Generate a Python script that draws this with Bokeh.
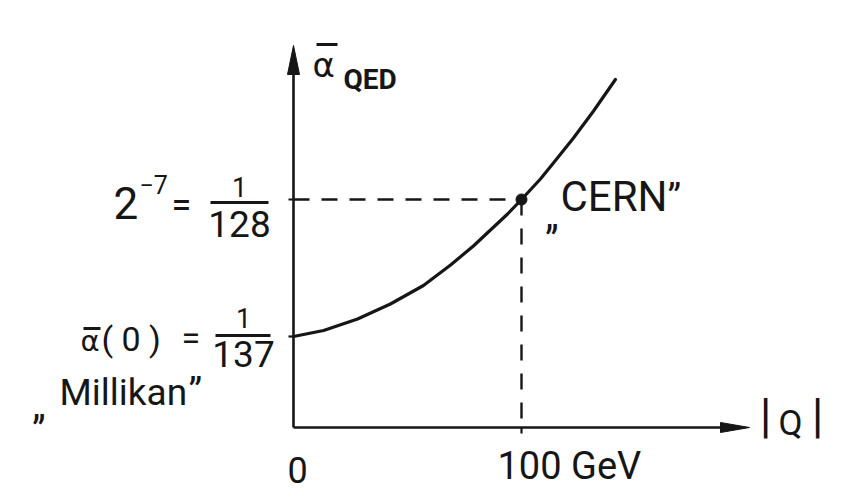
from bokeh.plotting import figure
from bokeh.models import Range1d
from bokeh.embed import file_html
from bokeh.resources import INLINE
from bokeh.core.properties import value

# ---------------- data ----------------
q_gev = [0, 13.2, 28.1, 42.5, 57.0, 68.9, 78.9, 93.9, 100, 108.3, 114.0, 122.8, 131.6, 141.2]
alpha_qed = [1 / 137, 0.0073218, 0.0073648, 0.0074210, 0.0074903, 0.0075671, 0.0076383,
             0.0077582, 1 / 128, 0.0078893, 0.0079492, 0.0080429, 0.0081440, 0.0082620]
q_cern = 100
alpha_cern = 1 / 128
alpha_zero = 1 / 137
x_tick_labels = ["0", "100 GeV"]
x_label = "Q"

# ---------------- layout ----------------
W, H = 842, 495
OFF = 0                  # picture px of the canvas origin
PX_Q0 = 293              # picture px of Q = 0
PX_PER_GEV = 2.28
PY_CERN = 199            # picture px (from top) of alpha = 1/128
PY_ZERO = 336            # picture px (from top) of alpha = 1/137
A_PER_PX = (alpha_cern - alpha_zero) / (PY_ZERO - PY_CERN)
BASE_SHIFT = 0.40        # empirical correction of text baseline (in em)


def X(px):
    return (px - PX_Q0) / PX_PER_GEV


def Y(py):
    return alpha_cern + (PY_CERN - py) * A_PER_PX


INK = "#161616"
FONT = "Roboto"

p = figure(width=W, height=H, x_range=Range1d(X(OFF), X(OFF + W)), y_range=Range1d(Y(OFF + H), Y(OFF)),
           output_backend="svg", toolbar_location=None, min_border=0,
           x_axis_location=None, y_axis_location=None)
p.grid.visible = False
p.outline_line_color = None
p.background_fill_color = "white"
p.border_fill_color = "white"

A_AXIS = Y(427)

# axes with arrow heads
p.segment(x0=[0, 0], y0=[A_AXIS, A_AXIS], x1=[X(724), 0], y1=[A_AXIS, Y(70)],
          line_color=INK, line_width=2.6)
p.patches(xs=[[X(749), X(720), X(720)], [0, X(287), X(299)]],
          ys=[[A_AXIS, Y(422), Y(432)], [Y(45), Y(74), Y(74)]],
          fill_color=INK, line_color=INK, line_width=1)

# small ticks
p.segment(x0=[X(288), X(288), q_cern], y0=[alpha_cern, alpha_zero, A_AXIS],
          x1=[0, 0, q_cern], y1=[alpha_cern, alpha_zero, Y(433)],
          line_color=INK, line_width=2.2)

# dashed guide lines
p.line([0, q_cern], [alpha_cern, alpha_cern], line_color=INK, line_width=2.4, line_dash="16 12")
p.line([q_cern, q_cern], [alpha_cern, A_AXIS], line_color=INK, line_width=2.4, line_dash="16 13")

# curve
p.line(q_gev, alpha_qed, line_color=INK, line_width=3.2, line_join="round", line_cap="round")
p.scatter([q_cern], [alpha_cern], size=11, fill_color=INK, line_color=INK)


def txt(px, py, s, size, align="left", font=FONT, style="normal"):
    p.text(x=[X(px)], y=[Y(py - BASE_SHIFT * size)], text=[s], text_font=value(font),
           text_font_size=f"{size}px", text_align=align, text_baseline="alphabetic",
           text_color=INK, text_font_style=style)


def bar(px0, px1, py, w=3):
    p.segment(x0=[X(px0)], y0=[Y(py)], x1=[X(px1)], y1=[Y(py)], line_color=INK, line_width=w)


# y-axis title: alpha-bar QED
txt(312, 78, "α", 34, font="DejaVu Sans")
bar(316, 337, 44)
txt(343, 90, "QED", 28, style="bold")

# 2^-7 = 1/128
txt(113, 220, "2", 44)
txt(139, 194, "−7", 25)
txt(171, 219, "=", 36)
txt(239, 197, "1", 27, align="center")
bar(210, 268, 202)
txt(239, 238, "128", 37, align="center")

# alpha(0) = 1/137
txt(80, 352, "α", 29, font="DejaVu Sans")
bar(83, 100, 328, 2.8)
txt(101, 352, "( 0 )", 34)
txt(181, 351, "=", 34)
txt(243, 328, "1", 27, align="center")
bar(215, 270, 335)
txt(243, 368, "137", 37, align="center")

# "Millikan"
txt(32, 421, "„", 38)
txt(59, 407, "Millikan", 37)
txt(188, 407, "”", 38)

# "CERN"
txt(545, 231, "„", 38)
txt(560, 213, "CERN", 42)
txt(667, 213, "”", 38)

# x tick labels and axis title |Q|
txt(297, 484, x_tick_labels[0], 36, align="center")
txt(497, 481, x_tick_labels[1], 38)
txt(765, 434, "|", 48, align="center")
txt(778, 437, x_label, 35)
txt(817, 434, "|", 48, align="center")

open("out.html", "w").write(file_html(p, INLINE))
